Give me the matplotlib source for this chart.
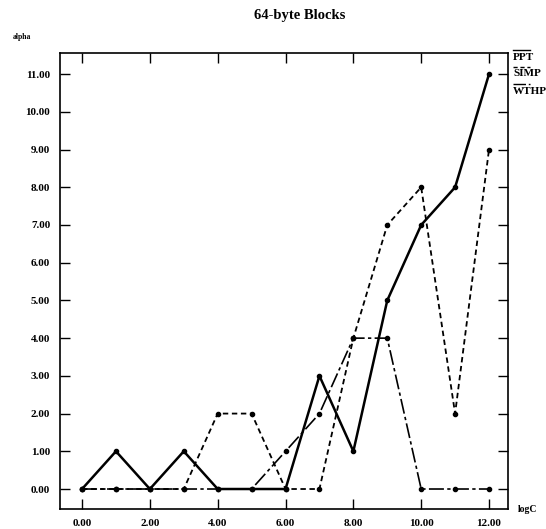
import numpy as np
import matplotlib.pyplot as plt
from matplotlib.lines import Line2D

plt.rcParams['font.family'] = ['Liberation Serif', 'DejaVu Serif']
plt.rcParams['font.weight'] = 'bold'

logC = [0, 1, 2, 3, 4, 5, 6, 7, 8, 9, 10, 11, 12]
ppt = [0, 1, 0, 1, 0, 0, 0, 3, 1, 5, 7, 8, 11]
simp = [0, 0, 0, 0, 2, 2, 0, 0, 4, 7, 8, 2, 9]
wthp = [0, 0, 0, 0, 0, 0, 1, 2, 4, 4, 0, 0, 0]
names = ['PPT', 'SIMP', 'WTHP']

fig = plt.figure(figsize=(5.46, 5.29), dpi=100)
ax = fig.add_axes([60/546, 1-509/529, (508-60)/546, (509-53)/529])

ax.plot(logC, ppt, color='black', lw=1.8, marker='o', ms=3)
ax.plot(logC, simp, color='black', lw=1.3, ls=(0, (3, 2)), marker='o', ms=3)
ax.plot(logC, wthp, color='black', lw=1.2, ls=(0, (9, 2, 2, 2)), marker='o', ms=3)

ax.set_xlim(-0.65, 12.56)
ax.set_ylim(-0.53, 11.56)
ax.set_xticks(np.arange(0, 13, 2))
ax.set_xticklabels(['%.2f' % v for v in np.arange(0, 13, 2)], fontsize=8, fontweight='bold')
ax.set_yticks(np.arange(0, 12))
ax.set_yticklabels(['%.2f' % v for v in np.arange(0, 12)], fontsize=8, fontweight='bold')
ax.tick_params(direction='in', length=7, width=1, top=True, right=True, pad=7)
for s in ax.spines.values():
    s.set_linewidth(1.2)

fig.text(300/546, 1-15/529, '64-byte Blocks', ha='center', va='center', fontsize=10.5, fontweight='bold')
fig.text(22/546, 1-37/529, 'alpha', ha='center', va='center', fontsize=5.5, fontweight='bold')
fig.text(528/546, 1-509/529, 'logC', ha='center', va='center', fontsize=7, fontweight='bold')

styles = ['-', (0, (3, 2)), (0, (9, 2, 2, 2))]
for i, (nm, st) in enumerate(zip(names, styles)):
    y = 1 - (57 + i*17)/529
    fig.text(513/546, y, nm, ha='left', va='center', fontsize=8, fontweight='bold')
    fig.add_artist(Line2D([513/546, 530/546], [y + 7/529, y + 7/529], color='black', lw=1, ls=st))

fig.savefig('out.png', dpi=100)
